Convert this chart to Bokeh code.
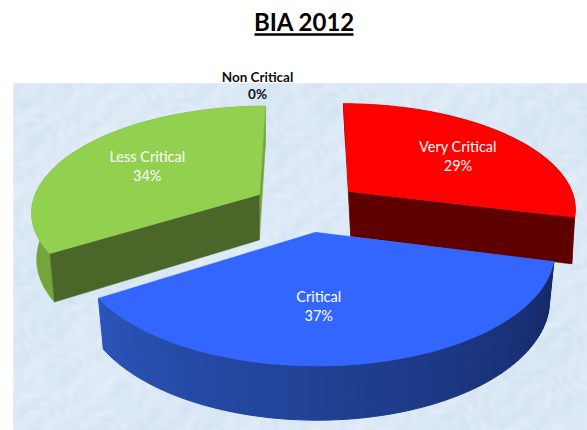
import numpy as np
from bokeh.plotting import figure
from bokeh.embed import file_html
from bokeh.resources import INLINE
from bokeh.core.properties import value
from bokeh.models import Range1d

title_text = "BIA 2012"
categories = ["Very Critical", "Critical", "Less Critical", "Non Critical"]
shares = [29, 37, 34, 0]
top_colors = ["#ff0000", "#3366ff", "#92d050"]
radial_colors = ["#5e0000", "#1c3a94", "#4a6628"]
sliver_colors = ["#8a0000", "#1c3a94", "#74a53c"]
label_colors = ["#ffffff", "#ffffff", "#ffffff", "#111111"]

# projection of the tilted pie, in page pixels
W, H = 587, 430
CX, CY = 306.0, 206.0
A, B = 228.0, 105.0
K = 0.15
EXPLODE = 0.24
DEPTH = 46.0
CONVERGE = 0.978
PIVOT_X = [440.0, 320.0, 259.0]

def proj(X, Y, down=None):
    X, Y = np.asarray(X, float), np.asarray(Y, float)
    s = 1 + K * Y
    x = CX + A * X / s
    y = CY - B * Y / s
    if down is not None:
        x = PIVOT_X[down] + (x - PIVOT_X[down]) * CONVERGE
        y = y + DEPTH / s ** 0.8
    return x, y

edges = np.cumsum([0] + shares) * 2 * np.pi / sum(shares)

def slice_plane(i, n=80):
    a0, a1 = edges[i], edges[i + 1]
    mid = (a0 + a1) / 2
    ox, oy = EXPLODE * np.sin(mid), EXPLODE * np.cos(mid)
    t = np.linspace(a0, a1, n)
    return ox, oy, ox + np.sin(t), oy + np.cos(t)

def wall(i, x0, y0):
    xt, yt = proj(x0, y0)
    xb, yb = proj(x0, y0, i)
    return list(xt) + list(xb[::-1]), list(yt) + list(yb[::-1])

p = figure(width=W, height=H, output_backend="svg", toolbar_location=None,
           x_range=Range1d(0, W), y_range=Range1d(H, 0), min_border=0,
           background_fill_color="#ffffff", border_fill_color="#ffffff", outline_line_color=None)
p.axis.visible = False
p.grid.visible = False

# panel: pale blue paper with a soft, non-data mottle
PX0, PY0 = 13, 83
p.quad(left=PX0, right=W, top=PY0, bottom=H, fill_color="#dce9f6", line_color=None)
gy, gx = np.mgrid[0:(H - PY0), 0:(W - PX0)].astype(float)
warp = 9 * np.sin(gx / 11 + gy / 23) + 8 * np.sin(gy / 9 - gx / 31)
mottle = (np.sin((gx + warp) / 5.3) * np.sin((gy - warp) / 4.1)
          + 0.5 * np.sin((gx * 0.8 + gy * 0.6 + warp) / 2.7) * np.sin((gx * 0.6 - gy * 0.8 - warp) / 3.4)
          + 0.7 * np.sin(gx / 47 + warp / 9) * np.sin(gy / 37 - warp / 11))
img = np.zeros(gx.shape, dtype=np.uint32)
view = img.view(dtype=np.uint8).reshape((*gx.shape, 4))
view[..., 0] = np.clip(220 + 4.0 * mottle, 0, 255)
view[..., 1] = np.clip(233 + 3.2 * mottle, 0, 255)
view[..., 2] = np.clip(246 + 2.0 * mottle, 0, 255)
view[..., 3] = 255
p.image_rgba(image=[img], x=PX0, y=PY0, dw=W - PX0, dh=H - PY0)

def lerp(c0, c1, f):
    return "#%02x%02x%02x" % tuple(int(round(a + (b - a) * f)) for a, b in zip(c0, c1))

for i in [2, 0, 1]:
    ox, oy, ax, ay = slice_plane(i)
    if i == 1:
        n = len(ax)
        for j in range(n - 1):
            xs, ys = wall(i, ax[j:j + 2], ay[j:j + 2])
            f = j / (n - 2)
            c = lerp((0x14, 0x28, 0x66), (0x2a, 0x54, 0xb8), f)
            p.patch(xs, ys, fill_color=c, line_color=c, line_width=1)
    else:
        xs, ys = wall(i, ax, ay)
        c = sliver_colors[i]
        p.patch(xs, ys, fill_color=c, line_color=c, line_width=0.5)
        front = -1 if i == 0 else 0     # the straight edge facing the viewer
        back = 0 if i == 0 else -1
        for idx, c in ((back, sliver_colors[i]), (front, radial_colors[i])):
            xs, ys = wall(i, [ox, ax[idx]], [oy, ay[idx]])
            p.patch(xs, ys, fill_color=c, line_color=c, line_width=0.5)
    tx, ty = proj(np.r_[ox, ax], np.r_[oy, ay])
    p.patch(list(tx), list(ty), fill_color=top_colors[i], line_color=top_colors[i], line_width=0.5)

# labels
LABEL_R = 0.6
label_dx = [11, -22, -1]
for i in range(3):
    mid = (edges[i] + edges[i + 1]) / 2
    r = EXPLODE + LABEL_R
    lx, ly = proj(r * np.sin(mid), r * np.cos(mid))
    lx = float(lx) + label_dx[i]
    ly = float(ly)
    p.text([lx, lx], [ly - 9.5, ly + 9.5], text=[categories[i], f"{shares[i]}%"],
           text_color=label_colors[i], text_font=value("Lato"), text_font_size="14.5px",
           text_align="center", text_baseline="middle")

nx, ny = 257, 85
p.text([nx, nx], [ny - 9, ny + 8], text=[categories[3], f"{shares[3]}%"],
       text_color=label_colors[3], text_font=value("Lato"), text_font_size="13.5px",
       text_font_style="bold", text_align="center", text_baseline="middle")

# title
p.text([304], [21], text=[title_text], text_color="#000000", text_font=value("Lato"),
       text_font_size="24px", text_font_style="bold", text_align="center", text_baseline="middle")
p.segment([254], [34], [353], [34], line_color="#000000", line_width=2.5)

open("out.html", "w").write(file_html(p, INLINE))
